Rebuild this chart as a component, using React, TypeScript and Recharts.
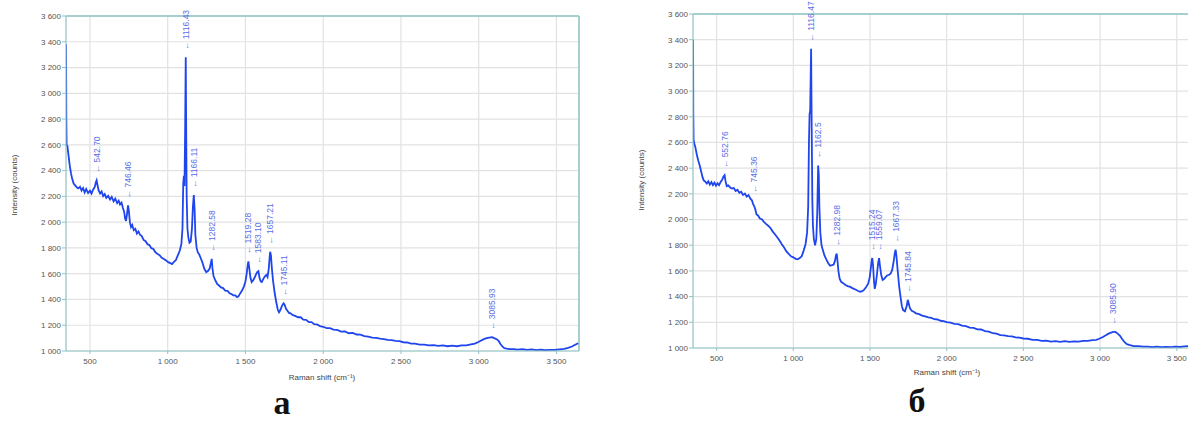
import React from 'react'
import { LineChart, Line, XAxis, YAxis, CartesianGrid, ReferenceLine, ReferenceDot } from 'recharts'

// spectrum a
const shiftA = [346, 347, 348, 350, 355, 362, 370, 378, 385, 395, 405, 415, 425, 436, 446, 456, 466, 476, 488, 500, 510, 520, 530, 538, 543, 548, 555, 565, 575, 585, 595, 605, 617, 629, 640, 652, 663, 675, 685, 693, 703, 712, 720, 726, 732, 738, 745, 750, 757, 764, 772, 782, 792, 802, 812, 822, 833, 845, 858, 870, 882, 895, 908, 920, 935, 948, 960, 975, 990, 1005, 1018, 1028, 1040, 1052, 1065, 1078, 1088, 1095, 1100, 1104, 1108, 1112, 1116, 1119, 1122, 1127, 1133, 1140, 1148, 1156, 1162, 1168, 1173, 1178, 1186, 1194, 1202, 1212, 1222, 1235, 1248, 1260, 1270, 1277, 1283, 1288, 1295, 1305, 1318, 1330, 1343, 1356, 1370, 1385, 1398, 1410, 1422, 1435, 1446, 1455, 1465, 1478, 1490, 1500, 1508, 1515, 1519, 1524, 1532, 1540, 1550, 1560, 1570, 1577, 1583, 1590, 1598, 1605, 1615, 1625, 1635, 1642, 1650, 1655, 1659, 1664, 1670, 1678, 1688, 1698, 1708, 1716, 1725, 1735, 1745, 1752, 1760, 1770, 1780, 1790, 1805, 1820, 1838, 1855, 1872, 1890, 1908, 1925, 1942, 1960, 1980, 2000, 2022, 2044, 2066, 2090, 2115, 2140, 2165, 2190, 2215, 2240, 2265, 2290, 2315, 2340, 2365, 2390, 2415, 2440, 2465, 2490, 2515, 2540, 2565, 2590, 2620, 2650, 2680, 2710, 2740, 2770, 2800, 2830, 2860, 2890, 2920, 2950, 2975, 2995, 3010, 3030, 3050, 3068, 3086, 3100, 3115, 3128, 3140, 3152, 3165, 3180, 3200, 3225, 3250, 3280, 3310, 3340, 3370, 3400, 3430, 3460, 3490, 3520, 3550, 3575, 3600, 3620, 3640]
const countsA = [3380, 3150, 2800, 2600, 2590, 2520, 2440, 2380, 2340, 2300, 2285, 2270, 2262, 2275, 2245, 2265, 2230, 2258, 2226, 2244, 2222, 2252, 2270, 2310, 2325, 2290, 2250, 2222, 2238, 2202, 2218, 2188, 2204, 2176, 2196, 2162, 2182, 2148, 2166, 2138, 2152, 2110, 2080, 2030, 2010, 2060, 2130, 2090, 2000, 1962, 1978, 1938, 1948, 1912, 1928, 1902, 1892, 1862, 1852, 1828, 1822, 1798, 1792, 1768, 1752, 1744, 1726, 1714, 1702, 1688, 1682, 1674, 1692, 1704, 1742, 1780, 1830, 1950, 2300, 2360, 2280, 2700, 3280, 2700, 2200, 1950, 1880, 1840, 1850, 1950, 2120, 2210, 2100, 1900, 1800, 1765, 1752, 1722, 1692, 1640, 1612, 1622, 1640, 1680, 1715, 1640, 1580, 1552, 1520, 1508, 1494, 1488, 1468, 1466, 1448, 1442, 1432, 1432, 1418, 1424, 1445, 1470, 1500, 1540, 1600, 1670, 1695, 1650, 1570, 1535, 1550, 1572, 1600, 1615, 1620, 1570, 1540, 1535, 1560, 1580, 1590, 1575, 1640, 1720, 1770, 1740, 1640, 1540, 1450, 1380, 1320, 1300, 1320, 1350, 1370, 1360, 1330, 1312, 1296, 1292, 1278, 1272, 1262, 1262, 1244, 1242, 1224, 1224, 1208, 1206, 1193, 1188, 1178, 1178, 1166, 1164, 1150, 1152, 1138, 1140, 1128, 1127, 1116, 1112, 1103, 1102, 1096, 1092, 1086, 1084, 1078, 1076, 1068, 1066, 1058, 1057, 1050, 1050, 1044, 1045, 1040, 1043, 1037, 1041, 1037, 1043, 1044, 1051, 1057, 1068, 1078, 1090, 1100, 1104, 1108, 1100, 1092, 1078, 1055, 1035, 1022, 1018, 1014, 1014, 1011, 1014, 1009, 1012, 1007, 1011, 1006, 1009, 1009, 1013, 1016, 1024, 1035, 1048, 1060]

// spectrum б
const shiftB = [346, 347, 348, 350, 355, 362, 370, 380, 390, 400, 408, 416, 426, 436, 446, 456, 466, 476, 486, 496, 506, 516, 526, 536, 545, 552, 558, 566, 576, 590, 600, 612, 624, 636, 648, 660, 672, 684, 696, 708, 720, 730, 738, 745, 752, 760, 770, 782, 795, 808, 822, 836, 850, 865, 880, 895, 910, 925, 940, 955, 970, 985, 1000, 1015, 1028, 1042, 1055, 1068, 1080, 1090, 1097, 1102, 1106, 1110, 1116, 1120, 1124, 1128, 1134, 1142, 1150, 1156, 1162, 1166, 1170, 1176, 1184, 1193, 1203, 1215, 1228, 1240, 1252, 1263, 1272, 1278, 1283, 1288, 1294, 1302, 1312, 1325, 1340, 1355, 1371, 1388, 1405, 1420, 1436, 1450, 1462, 1475, 1488, 1498, 1506, 1512, 1515, 1520, 1526, 1531, 1538, 1546, 1553, 1559, 1565, 1573, 1582, 1590, 1600, 1612, 1625, 1635, 1645, 1655, 1662, 1667, 1672, 1680, 1690, 1700, 1708, 1716, 1728, 1740, 1746, 1752, 1760, 1772, 1785, 1800, 1820, 1840, 1860, 1880, 1900, 1920, 1940, 1960, 1980, 2000, 2025, 2050, 2075, 2100, 2125, 2150, 2175, 2200, 2225, 2250, 2275, 2300, 2325, 2350, 2375, 2400, 2425, 2450, 2475, 2500, 2530, 2560, 2590, 2620, 2650, 2680, 2710, 2740, 2770, 2800, 2830, 2860, 2890, 2920, 2950, 2975, 2995, 3015, 3035, 3055, 3072, 3086, 3100, 3115, 3130, 3145, 3160, 3175, 3195, 3220, 3250, 3280, 3310, 3340, 3370, 3400, 3430, 3460, 3490, 3520, 3550, 3575, 3600, 3625, 3645]
const countsB = [3400, 3200, 2820, 2620, 2590, 2560, 2510, 2460, 2420, 2370, 2330, 2305, 2295, 2280, 2298, 2272, 2292, 2268, 2288, 2264, 2282, 2268, 2292, 2310, 2335, 2345, 2300, 2260, 2266, 2248, 2242, 2246, 2222, 2232, 2208, 2216, 2192, 2202, 2178, 2190, 2162, 2150, 2120, 2105, 2080, 2040, 2032, 2008, 2002, 1982, 1966, 1952, 1936, 1908, 1886, 1862, 1836, 1808, 1782, 1752, 1732, 1714, 1706, 1694, 1690, 1700, 1715, 1760, 1810, 1900, 2100, 2600, 2820, 2850, 3330, 2700, 2150, 1950, 1850, 1800, 1850, 2050, 2420, 2350, 2100, 1900, 1800, 1760, 1720, 1690, 1660, 1640, 1645, 1650, 1680, 1720, 1735, 1680, 1600, 1540, 1515, 1505, 1490, 1482, 1476, 1464, 1455, 1446, 1438, 1442, 1455, 1475, 1500, 1550, 1630, 1690, 1700, 1640, 1520, 1460, 1500, 1580, 1660, 1700, 1640, 1570, 1530, 1535, 1550, 1565, 1570, 1580, 1610, 1680, 1740, 1765, 1720, 1610, 1480, 1390, 1325, 1295, 1285, 1330, 1375, 1350, 1310, 1290, 1282, 1270, 1264, 1252, 1246, 1238, 1234, 1224, 1222, 1212, 1210, 1202, 1198, 1188, 1186, 1174, 1170, 1158, 1156, 1145, 1144, 1132, 1128, 1115, 1112, 1100, 1099, 1092, 1090, 1082, 1080, 1074, 1072, 1064, 1064, 1056, 1058, 1050, 1054, 1048, 1053, 1048, 1052, 1050, 1055, 1056, 1062, 1064, 1072, 1084, 1098, 1112, 1120, 1126, 1125, 1112, 1095, 1068, 1045, 1030, 1022, 1015, 1014, 1010, 1011, 1006, 1010, 1006, 1009, 1007, 1011, 1008, 1012, 1015, 1022, 1030, 1040, 1050, 1060]

const peakShiftA = [542.7, 746.46, 1116.43, 1166.11, 1282.58, 1519.28, 1583.1, 1657.21, 1745.11, 3085.93]
const peakTextA = ['542.70', '746.46', '1116.43', '1166.11', '1282.58', '1519.28', '1583.10', '1657.21', '1745.11', '3085.93']
const peakShiftB = [552.76, 745.36, 1116.47, 1162.5, 1282.98, 1515.24, 1559.07, 1667.33, 1745.84, 3085.9]
const peakTextB = ['552.76', '745.36', '1116.47', '1162.5', '1282.98', '1515.24', '1559.07', '1667.33', '1745.84', '3085.90']

const xTicks = [500, 1000, 1500, 2000, 2500, 3000, 3500]
const yTicks = [1000, 1200, 1400, 1600, 1800, 2000, 2200, 2400, 2600, 2800, 3000, 3200, 3400, 3600]

const X_MIN = 346
const X_MAX = 3645
const TEAL = '#8ec4c4'
const BLUE = '#1f45ee'
const FONT = '"Liberation Sans", Arial, sans-serif'

const fmt = (v: number) => {
  const s = String(v)
  return s.length > 3 ? s.slice(0, s.length - 3) + ' ' + s.slice(-3) : s
}

function nearest(shift: number[], counts: number[], x: number) {
  let best = 0
  for (let i = 1; i < shift.length; i++) {
    if (Math.abs(shift[i] - x) < Math.abs(shift[best] - x)) best = i
  }
  // use the local max around the labelled position
  let m = counts[best]
  for (let i = Math.max(0, best - 2); i <= Math.min(counts.length - 1, best + 2); i++) m = Math.max(m, counts[i])
  return m
}

function PeakMark(props: any) {
  const { cx, cy, text } = props
  if (cx == null || cy == null) return null
  return (
    <text
      transform={`translate(${cx + 3},${cy - 7}) rotate(-90)`}
      fontSize={8.5}
      fontFamily={FONT}
      fill="#5a6ee6"
      textAnchor="start"
    >
      {'← ' + text}
    </text>
  )
}

interface SpecProps {
  shift: number[]
  counts: number[]
  peaks: number[]
  texts: string[]
  width: number
  height: number
  top: number
  right: number
}

function Spectrum({ shift, counts, peaks, texts, width, height, top, right }: SpecProps) {
  const data = shift.map((s, i) => ({ shift: s, counts: counts[i] }))
  return (
    <LineChart width={width} height={height} data={data} margin={{ top, right, bottom: 0, left: 0 }}>
      <CartesianGrid stroke="#e2e2e2" strokeWidth={1.2} />
      <XAxis
        dataKey="shift"
        type="number"
        domain={[X_MIN, X_MAX]}
        ticks={xTicks}
        tickFormatter={fmt}
        allowDataOverflow
        height={21}
        tickSize={3}
        tickMargin={4}
        stroke={TEAL}
        tick={{ fontSize: 8, fill: '#555', fontFamily: FONT }}
      />
      <YAxis
        type="number"
        domain={[1000, 3600]}
        ticks={yTicks}
        tickFormatter={fmt}
        allowDataOverflow
        width={66}
        tickSize={4}
        tickMargin={1}
        stroke={TEAL}
        tick={{ fontSize: 8, fill: '#555', fontFamily: FONT }}
      />
      <ReferenceLine y={3600} stroke={TEAL} strokeWidth={1.5} />
      <ReferenceLine x={X_MAX} stroke={TEAL} strokeWidth={1.5} />
      <Line
        dataKey="counts"
        type="linear"
        stroke={BLUE}
        strokeWidth={1.8}
        dot={false}
        isAnimationActive={false}
      />
      {peaks.map((p, i) => (
        <ReferenceDot
          key={texts[i]}
          x={p}
          y={nearest(shift, counts, p)}
          r={0}
          shape={(sp: any) => <PeakMark {...sp} text={texts[i]} />}
        />
      ))}
    </LineChart>
  )
}

const labelStyle: React.CSSProperties = {
  position: 'absolute',
  fontFamily: FONT,
  fontSize: 8,
  color: '#444',
  whiteSpace: 'nowrap',
}

const letterStyle: React.CSSProperties = {
  position: 'absolute',
  transform: 'translate(-50%, -50%)',
  fontFamily: '"Liberation Serif", "Times New Roman", serif',
  fontWeight: 'bold',
  fontSize: 34,
  lineHeight: '34px',
  color: '#111',
}

export default function App() {
  return (
    <div
      style={{
        position: 'fixed',
        left: 0,
        top: 0,
        width: 1188,
        height: 423,
        overflow: 'hidden',
        background: '#fff',
      }}
    >
      <div style={{ position: 'absolute', left: 0, top: 0 }}>
        <Spectrum shift={shiftA} counts={countsA} peaks={peakShiftA} texts={peakTextA}
          width={600} height={372} top={16} right={21} />
      </div>
      <div style={{ position: 'absolute', left: 627, top: 0 }}>
        <Spectrum shift={shiftB} counts={countsB} peaks={peakShiftB} texts={peakTextB}
          width={590} height={369} top={14} right={18} />
      </div>

      <div style={{ ...labelStyle, left: 14, top: 185, transform: 'translate(-50%, -50%) rotate(-90deg)' }}>
        Intensity (counts)
      </div>
      <div style={{ ...labelStyle, left: 641, top: 180, transform: 'translate(-50%, -50%) rotate(-90deg)' }}>
        Intensity (counts)
      </div>
      <div style={{ ...labelStyle, left: 322, top: 376, transform: 'translate(-50%, -50%)' }}>
        Raman shift (cm⁻¹)
      </div>
      <div style={{ ...labelStyle, left: 947, top: 371, transform: 'translate(-50%, -50%)' }}>
        Raman shift (cm⁻¹)
      </div>

      <div style={{ ...letterStyle, left: 282, top: 403 }}>а</div>
      <div style={{ ...letterStyle, left: 917, top: 401 }}>б</div>
    </div>
  )
}
